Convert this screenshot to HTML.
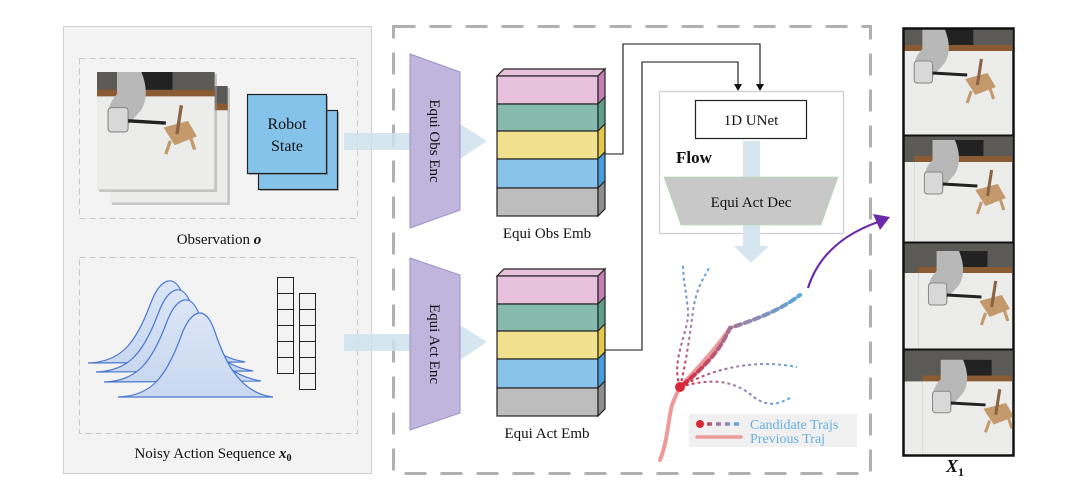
<!DOCTYPE html>
<html><head><meta charset="utf-8"><style>
html,body{margin:0;padding:0;background:#fff;}
svg{display:block;}
text{font-family:"Liberation Serif",serif;}
</style></head><body>
<svg width="1080" height="493" viewBox="0 0 1080 493" xmlns="http://www.w3.org/2000/svg">
<defs>
<linearGradient id="gu" x1="0" y1="1" x2="0" y2="0"><stop offset="0" stop-color="#d8283a"/><stop offset="0.5" stop-color="#9a80a8"/><stop offset="1" stop-color="#5aa8dc"/></linearGradient>
<linearGradient id="gr" x1="0" y1="0" x2="1" y2="0"><stop offset="0" stop-color="#d8283a"/><stop offset="0.5" stop-color="#9a80a8"/><stop offset="1" stop-color="#5aa8dc"/></linearGradient>
<linearGradient id="gl" gradientUnits="userSpaceOnUse" x1="700" y1="0" x2="742" y2="0"><stop offset="0" stop-color="#d8283a"/><stop offset="0.5" stop-color="#9a80a8"/><stop offset="1" stop-color="#5aa8dc"/></linearGradient>
<linearGradient id="gauss" x1="0" y1="0" x2="0" y2="1"><stop offset="0" stop-color="#dbe5f6"/><stop offset="1" stop-color="#c9d8f0"/></linearGradient>
<g id="scene">
<rect x="0" y="0" width="106" height="106" fill="#5c5a56"/>
<rect x="0" y="16" width="106" height="8" fill="#8a5a32"/>
<polygon points="0,22 106,22 106,106 0,106" fill="#ececea"/>
<rect x="38" y="0" width="30" height="16" fill="#222"/>
<path d="M18,0 L40,0 Q48,20 40,34 L26,50 L10,46 Q8,30 18,20 Z" fill="#b8b8b8"/>
<rect x="10" y="32" width="18" height="22" rx="3" fill="#d8d8d8" stroke="#888" stroke-width="1"/>
<line x1="28" y1="44" x2="62" y2="46" stroke="#222" stroke-width="3"/>
<polygon points="60,50 82,44 90,58 70,66" fill="#c49a6c"/>
<line x1="72" y1="56" x2="76" y2="30" stroke="#8a6244" stroke-width="3"/>
<line x1="66" y1="62" x2="62" y2="74" stroke="#c49a6c" stroke-width="3"/>
<line x1="84" y1="58" x2="88" y2="70" stroke="#c49a6c" stroke-width="3"/>
</g>
</defs>

<rect x="63.5" y="26.5" width="308" height="447" fill="#f3f3f3" stroke="#cfcfcf"/>
<rect x="79.5" y="58.5" width="278" height="160" fill="none" stroke="#c8c8c8" stroke-dasharray="6,4"/>
<rect x="79.5" y="257.5" width="278" height="176" fill="none" stroke="#c8c8c8" stroke-dasharray="6,4"/>

<rect x="112" y="88" width="118" height="117" fill="#999" opacity="0.5"/>
<g transform="translate(110,86) scale(1.11,1.1)"><use href="#scene"/></g>
<rect x="99" y="74" width="118" height="118" fill="#999" opacity="0.5"/>
<g transform="translate(97,72) scale(1.11,1.11)"><use href="#scene"/></g>
<rect x="260" y="112" width="79" height="79" fill="#555" opacity="0.4"/>
<rect x="258.5" y="110.5" width="79" height="79" fill="#86c3ea" stroke="#222" stroke-width="1.2"/>
<rect x="249" y="96" width="79" height="79" fill="#555" opacity="0.4"/>
<rect x="247.5" y="94.5" width="79" height="79" fill="#86c3ea" stroke="#222" stroke-width="1.2"/>
<text x="287" y="129" font-size="16" text-anchor="middle" fill="#111">Robot</text>
<text x="287" y="151" font-size="16" text-anchor="middle" fill="#111">State</text>
<text x="219" y="244" font-size="15" text-anchor="middle" fill="#111">Observation <tspan font-weight="bold" font-style="italic">o</tspan></text>

<g stroke="#4a78d0" stroke-width="1.2" fill="url(#gauss)">
<path d="M88,363 C120,362 135,345 150,305 C160,278 175,270 185,300 C195,330 205,355 245,362 Z"/>
<path d="M96,372 C128,371 143,354 158,314 C168,287 183,279 193,309 C203,339 213,364 253,371 Z"/>
<path d="M104,382 C136,381 151,364 166,324 C176,297 191,289 201,319 C211,349 221,374 261,381 Z"/>
<path d="M118,397 C150,396 165,379 180,339 C190,310 205,302 215,332 C225,362 240,393 273,397 Z"/>
</g>
<g fill="none" stroke="#222" stroke-width="1">
<rect x="277.5" y="277.5" width="16" height="96"/>
<path d="M277.5,293.5h16M277.5,309.5h16M277.5,325.5h16M277.5,341.5h16M277.5,357.5h16"/>
<rect x="299.5" y="293.5" width="16" height="96"/>
<path d="M299.5,309.5h16M299.5,325.5h16M299.5,341.5h16M299.5,357.5h16M299.5,373.5h16"/>
</g>
<text x="213" y="458" font-size="15" text-anchor="middle" fill="#111">Noisy Action Sequence <tspan font-weight="bold" font-style="italic">x</tspan><tspan font-weight="bold" font-size="10" dy="3">0</tspan></text>

<rect x="393.5" y="26.5" width="477" height="447" fill="none" stroke="#b0b0b0" stroke-width="3" stroke-dasharray="22,14"/>

<g fill="#cfe2ef" opacity="0.85">
<rect x="344" y="133" width="118" height="17"/>
<polygon points="460,124 487,141 460,159"/>
<rect x="344" y="334" width="118" height="17"/>
<polygon points="460,325 487,342 460,360"/>
</g>

<polygon points="410,54 460,72 460,210 410,228" fill="#c0b6dd" stroke="#9d92c4"/>
<text transform="translate(435,141) rotate(90)" font-size="15" text-anchor="middle" fill="#111" dy="5">Equi Obs Enc</text>
<polygon points="410,258 460,275 460,413 410,430" fill="#c0b6dd" stroke="#9d92c4"/>
<text transform="translate(435,344) rotate(90)" font-size="15" text-anchor="middle" fill="#111" dy="5">Equi Act Enc</text>

<g id="stack" stroke="#222" stroke-width="1.2">
<polygon points="497,76 504,69 605,69 598,76" fill="#e8c2dc"/>
<rect x="497" y="76" width="101" height="28" fill="#e8c2dc"/>
<rect x="497" y="104" width="101" height="27" fill="#86baae"/>
<rect x="497" y="131" width="101" height="28" fill="#f1e08e"/>
<rect x="497" y="159" width="101" height="29" fill="#88c4ea"/>
<rect x="497" y="188" width="101" height="28" fill="#bdbdbd"/>
<polygon points="598,76 605,69 605,97 598,104" fill="#c77fb3"/>
<polygon points="598,104 605,97 605,124 598,131" fill="#5e9f8e"/>
<polygon points="598,131 605,124 605,152 598,159" fill="#e3c84a"/>
<polygon points="598,159 605,152 605,181 598,188" fill="#4a9ddc"/>
<polygon points="598,188 605,181 605,209 598,216" fill="#8e8e8e"/>
</g>
<use href="#stack" transform="translate(0,200)"/>
<text x="547" y="238" font-size="15" text-anchor="middle" fill="#111">Equi Obs Emb</text>
<text x="547" y="438" font-size="15" text-anchor="middle" fill="#111">Equi Act Emb</text>

<g fill="none" stroke="#111" stroke-width="1.1">
<polyline points="605,154 623,154 623,44 760,44 760,86"/>
<polyline points="605,350 642,350 642,62 738,62 738,86"/>
</g>
<polygon points="756,84 764,84 760,91" fill="#111"/>
<polygon points="734,84 742,84 738,91" fill="#111"/>

<rect x="659.5" y="91.5" width="184" height="142" fill="#fff" stroke="#d0d0d0" stroke-width="1.3"/>
<rect x="695.5" y="100.5" width="111" height="38" fill="#fff" stroke="#222" stroke-width="1.2"/>
<text x="751" y="125" font-size="15" text-anchor="middle" fill="#111">1D UNet</text>
<text x="676" y="163" font-size="17" font-weight="bold" fill="#111">Flow</text>
<g fill="#d6e6f1">
<rect x="743" y="141" width="17" height="105"/>
<polygon points="734,246 769,246 751,263"/>
</g>
<polygon points="664,177 838,177 821,225 681,225" fill="#c8c8c8" stroke="#b8dcb8" stroke-width="0.8"/>
<text x="751" y="207" font-size="15" text-anchor="middle" fill="#111">Equi Act Dec</text>

<path d="M660,460 C668,440 668,420 672,405 C676,395 678,390 682,385 C700,365 715,350 730,328" fill="none" stroke="#ee9a9a" stroke-width="4" stroke-linecap="round"/>
<g fill="none" stroke-width="2" stroke-dasharray="3,3">
<path d="M680,387 C670,360 690,330 688,310 C686,290 683,280 683,263" stroke="url(#gu)"/>
<path d="M680,387 C688,355 690,330 694,305 C698,285 704,278 709,268" stroke="url(#gu)"/>
<path d="M680,387 C720,365 760,360 797,367" stroke="url(#gr)"/>
<path d="M680,387 C720,375 740,385 755,398 C770,408 780,403 790,398" stroke="url(#gr)"/>
</g>
<path d="M683,385 C700,370 718,355 730,328 C760,318 780,310 800,295" fill="none" stroke="url(#gr)" stroke-width="4" stroke-dasharray="6,4" stroke-linecap="round"/>
<circle cx="680" cy="387" r="5" fill="#d8283a"/>
<path d="M808,288 C820,250 850,232 878,222" fill="none" stroke="#6a2ba8" stroke-width="2.2"/>
<polygon points="890,217 873,214 880,230" fill="#6a2ba8"/>

<rect x="689" y="414" width="168" height="33" fill="#f0f0f0"/>
<circle cx="700" cy="424" r="4" fill="#d8283a"/>
<line x1="707" y1="424" x2="742" y2="424" stroke="url(#gl)" stroke-width="3.5" stroke-dasharray="5,4"/>
<line x1="697" y1="437" x2="741" y2="437" stroke="#ee9a9a" stroke-width="3.5" stroke-linecap="round"/>
<text x="750" y="429" font-size="14" fill="#6aaedc">Candidate Trajs</text>
<text x="750" y="443" font-size="14" fill="#6aaedc">Previous Traj</text>

<g>
<svg x="904" y="29" width="108" height="106" viewBox="0 0 106 106" preserveAspectRatio="none"><use href="#scene"/></svg>
<svg x="904" y="136" width="108" height="106" viewBox="0 0 106 106" preserveAspectRatio="none"><g transform="translate(10,4)"><rect x="-10" y="-4" width="120" height="120" fill="#ececea"/><rect x="-10" y="-4" width="120" height="26" fill="#5c5a56"/><use href="#scene"/></g></svg>
<svg x="904" y="243" width="108" height="106" viewBox="0 0 106 106" preserveAspectRatio="none"><g transform="translate(14,8)"><rect x="-14" y="-8" width="120" height="120" fill="#ececea"/><rect x="-14" y="-8" width="120" height="30" fill="#5c5a56"/><use href="#scene"/></g></svg>
<svg x="904" y="350" width="108" height="104" viewBox="0 0 106 106" preserveAspectRatio="none"><g transform="translate(18,10)"><rect x="-18" y="-10" width="120" height="120" fill="#ececea"/><rect x="-18" y="-10" width="120" height="32" fill="#5c5a56"/><use href="#scene"/></g></svg>
</g>
<rect x="903.5" y="28.5" width="110" height="427" fill="none" stroke="#111" stroke-width="2.5"/>
<line x1="903" y1="135.5" x2="1014" y2="135.5" stroke="#111" stroke-width="2"/>
<line x1="903" y1="242.5" x2="1014" y2="242.5" stroke="#111" stroke-width="2"/>
<line x1="903" y1="349.5" x2="1014" y2="349.5" stroke="#111" stroke-width="2"/>
<text x="955" y="472" font-size="18" font-weight="bold" font-style="italic" text-anchor="middle" fill="#111">X<tspan font-size="12" dy="4" font-style="normal">1</tspan></text>
</svg>
</body></html>
